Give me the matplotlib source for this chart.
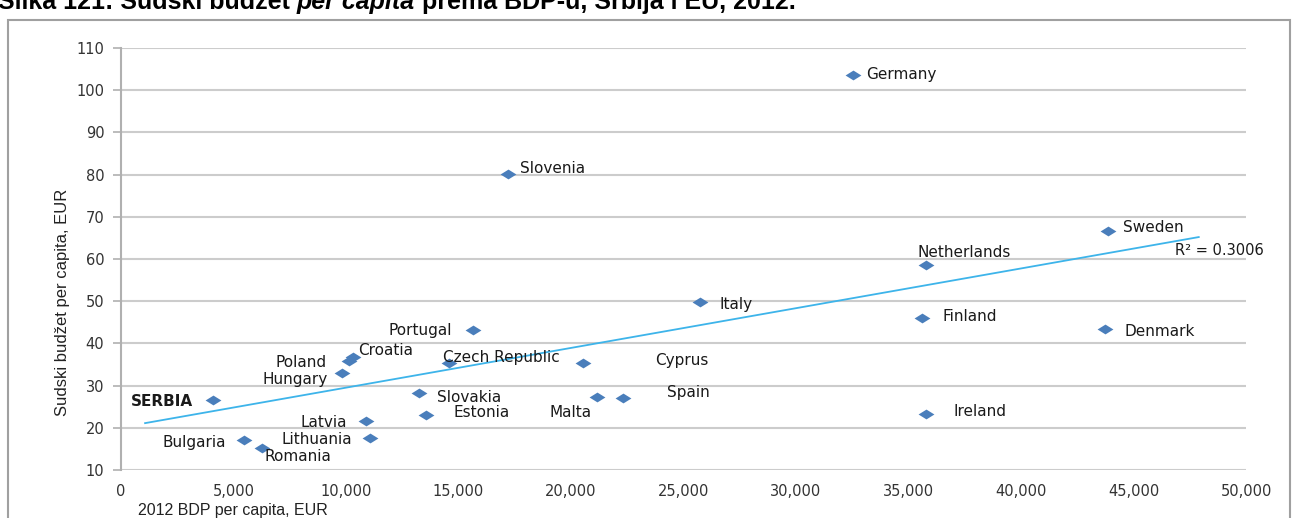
import numpy as np
import matplotlib
matplotlib.use("Agg")
import matplotlib.pyplot as plt
from matplotlib.patches import Rectangle
from matplotlib.path import Path

# data
countries = ["SERBIA", "Bulgaria", "Romania", "Hungary", "Poland", "Croatia",
             "Latvia", "Lithuania", "Slovakia", "Estonia", "Czech Republic",
             "Portugal", "Slovenia", "Cyprus", "Malta", "Spain", "Italy",
             "Germany", "Finland", "Netherlands", "Ireland", "Denmark", "Sweden"]
gdp = [4100, 5470, 6270, 9820, 10130, 10310,
       10890, 11070, 13240, 13560, 14580,
       15640, 17200, 20530, 21150, 22310, 25730,
       32530, 35600, 35780, 35780, 43730, 43870]
budget = [26.6, 17.1, 15.2, 33.0, 35.8, 36.8,
          21.6, 17.6, 28.2, 23.0, 35.4,
          43.2, 80.1, 35.4, 27.3, 27.1, 49.8,
          103.6, 46.0, 58.6, 23.3, 43.4, 66.6]
trend_range = [1070, 47900]
r2_text = "R\u00b2 = 0.3006"

# label offsets (pixels) and alignment
offsets = {
    "SERBIA": (-20, -2, "right"), "Bulgaria": (-18, -2, "right"),
    "Romania": (2, -8, "left"), "Hungary": (-14, -7, "right"),
    "Poland": (-22, -1, "right"), "Croatia": (5, 6, "left"),
    "Latvia": (-19, -1, "right"), "Lithuania": (-18, -2, "right"),
    "Slovakia": (18, -4, "left"), "Estonia": (27, 3, "left"),
    "Czech Republic": (-6, 5, "left"), "Portugal": (-21, -1, "right"),
    "Slovenia": (12, 6, "left"), "Cyprus": (72, 2, "left"),
    "Malta": (-5, -16, "right"), "Spain": (44, 5, "left"),
    "Italy": (20, -2, "left"), "Germany": (13, 1, "left"),
    "Finland": (20, 2, "left"), "Netherlands": (-9, 12, "left"),
    "Ireland": (27, 2, "left"), "Denmark": (20, -2, "left"),
    "Sweden": (15, 4, "left"),
}

fig = plt.figure(figsize=(12.96, 5.18), dpi=100)
ax = fig.add_axes([121 / 1296, 1 - 470 / 518, 1125 / 1296, 422 / 518])

# outer frame
fig.patches.append(Rectangle((8 / 1296, -0.05), 1282 / 1296, 1.05 - 20 / 518,
                             transform=fig.transFigure, fill=False,
                             edgecolor="#a0a0a0", lw=1.5))

diamond = Path([(-1, 0), (0, 0.62), (1, 0), (0, -0.62), (-1, 0)],
               [Path.MOVETO, Path.LINETO, Path.LINETO, Path.LINETO, Path.CLOSEPOLY])

x = np.array(gdp)
y = np.array(budget)
ax.scatter(x, y, marker=diamond, s=130, color="#4a7ebb", zorder=3, linewidths=0)

k, b = np.polyfit(x, y, 1)
xt = np.array(trend_range)
ax.plot(xt, k * xt + b, color="#3db4ea", lw=1.3, zorder=2)

for name, xv, yv in zip(countries, gdp, budget):
    dx, dy, ha = offsets[name]
    ax.annotate(name, (xv, yv), xytext=(dx, dy), textcoords="offset pixels",
                ha=ha, va="center", fontsize=11, color="#1a1a1a",
                fontweight="bold" if name == "SERBIA" else "normal",
                family="DejaVu Sans")

ax.annotate(r2_text, (trend_range[1], k * trend_range[1] + b), xytext=(-24, -13),
            textcoords="offset pixels", ha="left", va="center", fontsize=10.5,
            color="#1a1a1a")

ax.set_xlim(0, 50000)
ax.set_ylim(10, 110)
ax.set_xticks(np.arange(0, 50001, 5000))
ax.set_xticklabels([f"{v:,}" for v in range(0, 50001, 5000)])
ax.set_yticks(np.arange(10, 111, 10))
ax.grid(axis="y", color="#cccccc", lw=1.5)
ax.set_axisbelow(True)
for s in ["top", "right", "bottom"]:
    ax.spines[s].set_visible(False)
ax.spines["left"].set_color("#b0b0b0")
ax.spines["left"].set_linewidth(1.5)
ax.tick_params(axis="y", length=6, color="#b0b0b0", width=1.2,
               labelsize=10.5, labelcolor="#333333", pad=6)
ax.tick_params(axis="x", length=0, labelsize=10.5, labelcolor="#333333", pad=10)

fig.text(62 / 1296, 1 - 302 / 518, "Sudski budžet per capita, EUR", rotation=90,
         ha="center", va="center", fontsize=12, family="Liberation Sans",
         color="#222222")
fig.text(138 / 1296, 1 - 510 / 518, "2012 BDP per capita, EUR", ha="left",
         va="center", fontsize=11.5, family="Liberation Sans", color="#222222")

# title, sitting at the top edge like the reference
parts = [("Slika 121: Sudski budžet ", "normal"), ("per capita", "italic"),
         (" prema BDP-u, Srbija i EU, 2012.", "normal")]
renderer = fig.canvas.get_renderer()
xpos = -2 / 1296
for txt, style in parts:
    t = fig.text(xpos, 1 - 9 / 518, txt, ha="left", va="baseline", fontsize=18,
                 fontweight="bold", style=style, family="Liberation Sans")
    bb = t.get_window_extent(renderer=renderer)
    xpos = bb.x1 / 1296

fig.savefig("out.png", dpi=100)
